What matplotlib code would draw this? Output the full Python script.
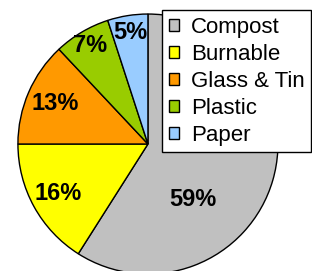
import numpy as np
import matplotlib.pyplot as plt

plt.rcParams['font.family'] = ['Liberation Sans', 'DejaVu Sans']

# data
categories = ['Compost', 'Burnable', 'Glass & Tin', 'Plastic', 'Paper']
shares = [59, 16, 13, 7, 5]
colors = ['#C0C0C0', '#FFFF00', '#FF9900', '#99CC00', '#99CCFF']

# label placement (radius as fraction of pie radius, angle offset from slice middle)
label_r = [0.55, 0.79, 0.78, 0.88, 0.87]
label_shift = [-35, 0, 0, 0, 0]

fig = plt.figure(figsize=(3.12, 2.71), dpi=100)
ax = fig.add_axes([0, 0, 1, 1])

wedges, _ = ax.pie(shares, colors=colors, startangle=90, counterclock=False,
                   radius=1, center=(0, 0),
                   wedgeprops=dict(edgecolor='black', linewidth=1))

for w, v, r, d in zip(wedges, shares, label_r, label_shift):
    mid = np.deg2rad((w.theta1 + w.theta2) / 2 + d)
    ax.text(r * np.cos(mid), r * np.sin(mid), f'{v}%', ha='center', va='center',
            fontsize=17, fontweight='bold')

ax.set_xlim(-1.138, 1.262)
ax.set_ylim(-0.977, 1.108)
ax.set_aspect('auto')
ax.axis('off')

leg = fig.legend(wedges, categories, loc='upper left',
                 bbox_to_anchor=(0.519, 0.963), bbox_transform=fig.transFigure,
                 borderaxespad=0, frameon=True, fancybox=False, framealpha=1,
                 fontsize=16, handlelength=0.45, handleheight=0.45,
                 handletextpad=0.55, labelspacing=0.27, borderpad=0.3)
leg.get_frame().set_edgecolor('black')
leg.get_frame().set_linewidth(1)
for h in leg.legend_handles:
    h.set_linewidth(1)

fig.savefig('out.png', dpi=100)
